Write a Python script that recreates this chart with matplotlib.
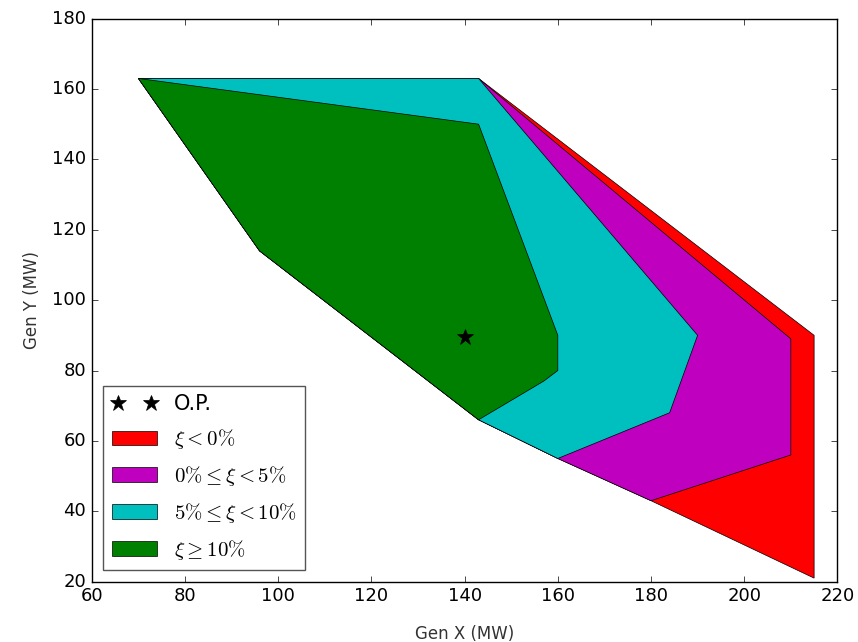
import matplotlib
matplotlib.use("Agg")
import matplotlib.pyplot as plt

plt.style.use("classic")
plt.rcParams["mathtext.fontset"] = "cm"

# Region boundaries (Gen X, Gen Y) in MW
red_x = [70, 143, 215, 215, 180, 160, 143, 96]
red_y = [163, 163, 90, 21, 43, 55, 66, 114]
mag_x = [70, 143, 210, 210, 180, 160, 143, 96]
mag_y = [163, 163, 89, 56, 43, 55, 66, 114]
cyan_x = [70, 143, 190, 184, 160, 143, 96]
cyan_y = [163, 163, 90, 68, 55, 66, 114]
green_x = [70, 143, 160, 160, 157, 143, 96]
green_y = [163, 150, 90, 80, 77, 66, 114]

op_x = [140]
op_y = [89.5]

labels = [r"$\xi < 0\%$", r"$0\% \leq \xi < 5\%$", r"$5\% \leq \xi < 10\%$", r"$\xi \geq 10\%$"]

xticks = [60, 80, 100, 120, 140, 160, 180, 200, 220]
yticks = [20, 40, 60, 80, 100, 120, 140, 160, 180]

fig = plt.figure(figsize=(8.58, 6.42), dpi=100, facecolor="white")
ax = fig.add_axes([0.107, 0.094, 0.869, 0.877])
ax.set_facecolor("white")

ax.fill(red_x, red_y, color="r", ec="k", lw=0.5, label=labels[0])
ax.fill(mag_x, mag_y, color="m", ec="k", lw=0.5, label=labels[1])
ax.fill(cyan_x, cyan_y, color="c", ec="k", lw=0.5, label=labels[2])
ax.fill(green_x, green_y, color="g", ec="k", lw=0.5, label=labels[3])
op, = ax.plot(op_x, op_y, "k*", ms=12, label="O.P.")

ax.set_xlim(60, 220)
ax.set_ylim(20, 180)
ax.set_xticks(xticks)
ax.set_yticks(yticks)
ax.tick_params(labelsize=13)
ax.set_xlabel("Gen X (MW)", fontsize=12, labelpad=14, color="#333333")
ax.set_ylabel("Gen Y (MW)", fontsize=12, labelpad=8, color="#333333")

handles, labs = ax.get_legend_handles_labels()
order = [4, 0, 1, 2, 3]
leg = ax.legend([handles[i] for i in order], [labs[i] for i in order],
                loc="lower left", fontsize=15, numpoints=2, handlelength=2.2,
                borderaxespad=0.55, labelspacing=0.62)
leg.get_frame().set_edgecolor("#555555")

fig.savefig("out.png", dpi=100, facecolor="white")
